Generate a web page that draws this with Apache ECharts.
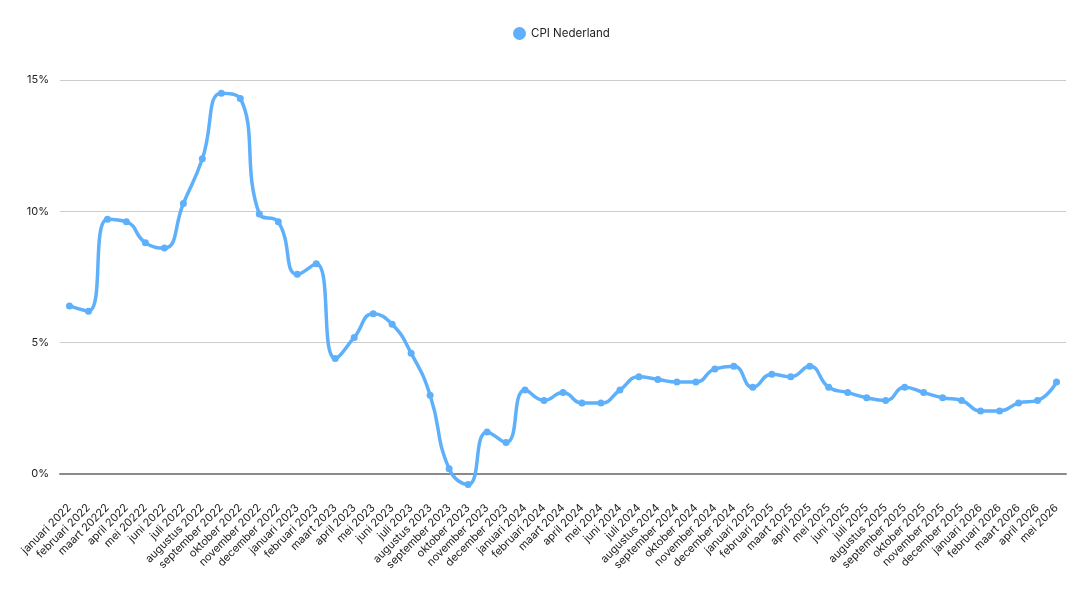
<!DOCTYPE html>
<html>
<head>
<meta charset="utf-8">
<script src="https://cdn.jsdelivr.net/npm/echarts@6/dist/echarts.min.js"></script>
<style>
  html, body { margin: 0; padding: 0; background: #fff; }
  #chart { width: 1080px; height: 600px; }
</style>
</head>
<body>
<div id="chart"></div>
<script>
// maanden (labels zoals in het origineel, inclusief typfouten)
var maanden = [
  'januari 2022', 'februari 2022', 'maart 20222', 'april 2022', 'mei 20222', 'juni 2022',
  'juli 2022', 'augustus 2022', 'september 2022', 'oktober 2022', 'november 2022', 'december 2022',
  'januari 2023', 'februari 2023', 'maart 2023', 'april 2023', 'mei 2023', 'juni 2023',
  'juli 2023', 'augustus 2023', 'september 2023', 'oktober 2023', 'november 2023', 'december 2023',
  'januari 2024', 'februari 2024', 'maart 2024', 'april 2024', 'mei 2024', 'juni 2024',
  'juli 2024', 'augustus 2024', 'september 2024', 'oktober 2024', 'november 2024', 'december 2024',
  'januari 2025', 'februari 2025', 'maart 2025', 'april 2025', 'mei 2025', 'juni 2025',
  'juli 2025', 'augustus 2025', 'september 2025', 'oktober 2025', 'november 2025', 'december 2025',
  'januari 2026', 'februari 2026', 'maart 2026', 'april 2026', 'mei 2026'
];

var cpi = [
  6.4, 6.2, 9.7, 9.6, 8.8, 8.6, 10.3, 12.0, 14.5, 14.3, 9.9, 9.6,
  7.6, 8.0, 4.4, 5.2, 6.1, 5.7, 4.6, 3.0, 0.2, -0.4, 1.6, 1.2,
  3.2, 2.8, 3.1, 2.7, 2.7, 3.2, 3.7, 3.6, 3.5, 3.5, 4.0, 4.1,
  3.3, 3.8, 3.7, 4.1, 3.3, 3.1, 2.9, 2.8, 3.3, 3.1, 2.9, 2.8,
  2.4, 2.4, 2.7, 2.8, 3.5
];

var yTicks = [0, 5, 10, 15];

var myChart = echarts.init(document.getElementById('chart'));
var font = 'Inter, "Noto Sans", sans-serif';

var option = {
  animation: false,
  textStyle: { fontFamily: font },
  legend: {
    top: 22,
    left: 508,
    icon: 'circle',
    itemWidth: 13,
    itemHeight: 13,
    itemGap: 6,
    textStyle: { color: '#222', fontSize: 11.5, fontFamily: font },
    data: ['CPI Nederland']
  },
  grid: {
    left: 60,
    right: 14,
    top: 80,
    bottom: 126,
    containLabel: false
  },
  xAxis: {
    type: 'category',
    data: maanden,
    boundaryGap: true,
    axisLine: { lineStyle: { color: '#8a8a8a', width: 2 } },
    axisTick: { show: false },
    axisLabel: {
      interval: 0,
      rotate: 45,
      margin: 32,
      color: '#222',
      fontSize: 11,
      fontFamily: font
    },
    splitLine: { show: false }
  },
  yAxis: {
    type: 'value',
    min: yTicks[0],
    max: yTicks[yTicks.length - 1],
    interval: 5,
    axisLine: { show: false },
    axisTick: { show: false },
    axisLabel: {
      formatter: '{value}%',
      color: '#222',
      fontSize: 11,
      margin: 11,
      fontFamily: font
    },
    splitLine: { lineStyle: { color: '#cccccc', width: 1.2 } }
  },
  series: [{
    name: 'CPI Nederland',
    type: 'line',
    data: cpi,
    smooth: 0.5,
    clip: false,
    symbol: 'circle',
    symbolSize: 7,
    color: '#5eb0fb',
    lineStyle: { width: 3.5, color: '#5eb0fb' },
    itemStyle: { color: '#5eb0fb' }
  }]
};

myChart.setOption(option);
</script>
</body>
</html>
